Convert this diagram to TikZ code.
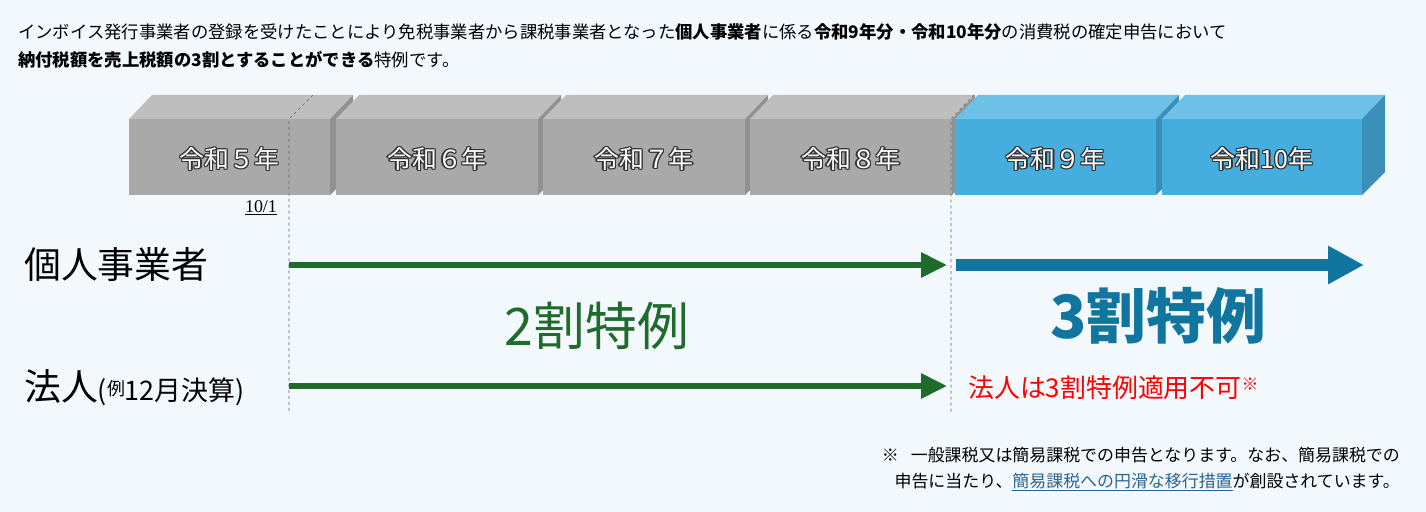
\documentclass[tikz,border=0pt]{standalone}
\usepackage{fontspec}
\setmainfont{Noto Sans CJK JP}
\newfontfamily\serifnum{Liberation Serif}
\usetikzlibrary{arrows.meta,positioning}
\definecolor{bgblue}{HTML}{F3F8FC}
\definecolor{grfront}{HTML}{A9A9A9}
\definecolor{grtop}{HTML}{BEBEBE}
\definecolor{grside}{HTML}{919191}
\definecolor{blfront}{HTML}{46AEDF}
\definecolor{bltop}{HTML}{6DC1E7}
\definecolor{blside}{HTML}{3A8FB9}
\definecolor{tokugreen}{HTML}{1F6B2B}
\definecolor{tokublue}{HTML}{10769F}
\definecolor{linkblue}{HTML}{2A6496}
\tikzset{
  yrtext/.style={font=\fontsize{25}{25}\selectfont},
  partarrow/.style={tokugreen,line width=6bp,-{Triangle[length=26bp,width=24bp]}},
  headtext/.style={font=\fontsize{17.4}{24}\selectfont,anchor=west,inner sep=0pt},
  guide/.style={gray!80!black,dashed,line width=0.6bp}
}
% one year block: x, width, front, top, side, name, label
\newcommand\yrblock[7]{%
  \fill[#4] (#1,119) -- (#1+23,95) -- (#1+#2+23,95) -- (#1+#2,119) -- cycle;
  \fill[#5] (#1+#2,119) -- (#1+#2+23,95) -- (#1+#2+23,172) -- (#1+#2,195) -- cycle;
  \fill[#3] (#1,119) rectangle (#1+#2,195);
  \foreach \dx/\dy in {-1.4/0,1.4/0,0/-1.4,0/1.4,-1/-1,1/1,-1/1,1/-1}
    \node[yrtext,text=black!80] at (#1+#2/2+\dx,159+\dy) {#7};
  \node[yrtext,text=white] (#6) at (#1+#2/2,159) {#7};}
\begin{document}
\begin{tikzpicture}[x=1bp,y=-1bp]
\fill[bgblue] (0,0) rectangle (1426,512);
\useasboundingbox (0,0) rectangle (1426,512);
% heading
\node[headtext] (head1) at (18,32) {インボイス発行事業者の登録を受けたことにより免税事業者から課税事業者となった\textbf{個人事業者}に係る\textbf{令和9年分・令和10年分}の消費税の確定申告において};
\node[headtext] (head2) at (18,60) {\textbf{納付税額を売上税額の3割とすることができる}特例です。};
% years
\yrblock{129}{201}{grfront}{grtop}{grside}{r5}{令和５年}
\yrblock{336}{202}{grfront}{grtop}{grside}{r6}{令和６年}
\yrblock{543}{202}{grfront}{grtop}{grside}{r7}{令和７年}
\yrblock{750}{202}{grfront}{grtop}{grside}{r8}{令和８年}
\yrblock{955}{201}{blfront}{bltop}{blside}{r9}{令和９年}
\yrblock{1162}{200}{blfront}{bltop}{blside}{r10}{令和10年}
% guides
\coordinate (g5top) at (313,95);
\coordinate (g5a) at (289,119);
\coordinate (g5b) at (289,412);
\coordinate (g9top) at (974,95);
\coordinate (g9a) at (951,119);
\coordinate (g9b) at (951,412);
\draw[guide] (g5top) -- (g5a) -- (g5b);
\draw[guide] (g9top) -- (g9a) -- (g9b);
\node[font=\serifnum\fontsize{18}{18}\selectfont,inner sep=1bp] (oct) at (261,208) {\underline{10/1}};
% rows
\node[anchor=west,inner sep=0pt,font=\fontsize{37}{37}\selectfont] (kojin) at (24,265) {個人事業者};
\node[anchor=west,inner sep=0pt,font=\fontsize{37}{37}\selectfont] (hojin) at (24,388)
  {法人{\fontsize{27}{27}\selectfont(\raisebox{5bp}{\fontsize{18}{18}\selectfont 例}12月決算)}};
\coordinate (k0) at (289,265);
\coordinate (k1) at (947,265);
\coordinate (k2) at (956,265);
\coordinate (k3) at (1364,265);
\coordinate (h0) at (289,386);
\coordinate (h1) at (947,386);
\draw[partarrow] (k0) -- (k1);
\draw[partarrow] (h0) -- (h1);
\draw[tokublue,line width=12bp,-{Triangle[length=36bp,width=36bp]}] (k2) -- (k3);
\node[tokugreen,font=\fontsize{52}{52}\selectfont] (two) at (597,326) {2割特例};
\node[tokublue,font=\bfseries\fontsize{60}{60}\selectfont] (three) at (1158,316) {3割特例};
\node[red,anchor=west,inner sep=0pt,font=\fontsize{26}{26}\selectfont] (nocorp) at (968,388)
  {法人は3割特例適用不可\raisebox{7bp}{\fontsize{17}{17}\selectfont ※}};
% note
\node[anchor=east,inner sep=0pt,font=\fontsize{17}{17}\selectfont] (note1) at (1400,455)
  {※\hspace{12bp}一般課税又は簡易課税での申告となります。なお、簡易課税での};
\node[anchor=east,inner sep=0pt,font=\fontsize{17}{17}\selectfont] (note2) at (1400,482)
  {申告に当たり、{\color{linkblue}\underline{簡易課税への円滑な移行措置}}が創設されています。};
\end{tikzpicture}
\end{document}
